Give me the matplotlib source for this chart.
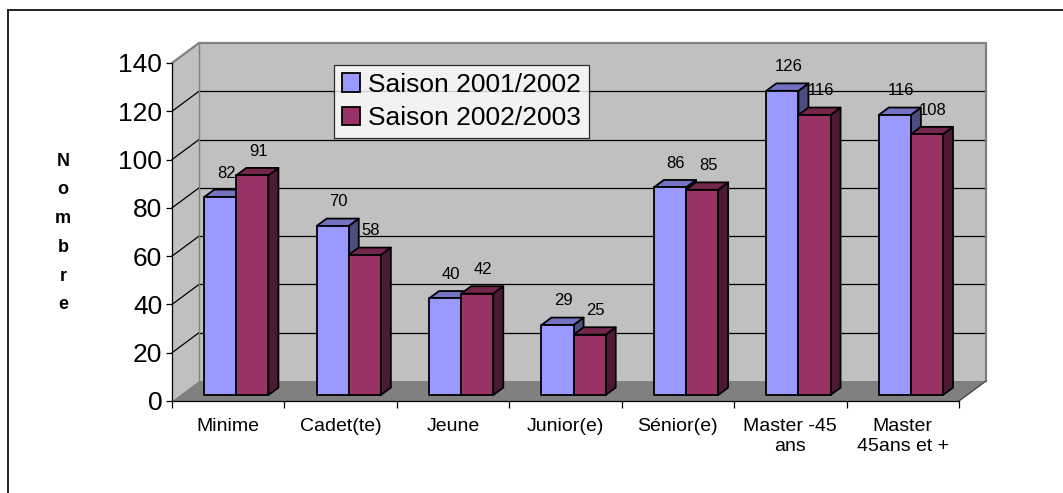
import matplotlib
matplotlib.use('Agg')
import matplotlib.pyplot as plt
from matplotlib.patches import Polygon, Rectangle, Patch

plt.rcParams['font.family'] = ['Liberation Sans', 'DejaVu Sans']

categories = ['Minime', 'Cadet(te)', 'Jeune', 'Junior(e)', 'Sénior(e)',
              'Master -45\nans', 'Master\n45ans et +']
series_names = ['Saison 2001/2002', 'Saison 2002/2003']
saison_2001 = [82, 70, 40, 29, 86, 126, 116]
saison_2002 = [91, 58, 42, 25, 85, 116, 108]
yticks = [0, 20, 40, 60, 80, 100, 120, 140]

# colours: front, top, side
colors = [('#9999FF', '#7373C4', '#4D4D80'),
          ('#993366', '#74264D', '#4D1A33')]

W, H = 1063, 493
fig = plt.figure(figsize=(W / 100, H / 100), dpi=100)
ax_l, ax_r, ax_t, ax_b = 172, 959, 63, 401
ax = fig.add_axes([ax_l / W, 1 - ax_b / H, (ax_r - ax_l) / W, (ax_b - ax_t) / H])
n = len(categories)
ax.set_xlim(-0.5, n - 0.5)
ax.set_ylim(0, 140)

px_x = (ax_r - ax_l) / n
px_y = (ax_b - ax_t) / 140.0
DX, DY = 27, 20  # depth of the floor in pixels


def proj(x, y, d):
    return (x + d * DX / px_x, y + d * DY / px_y)


def poly(pts, **kw):
    p = Polygon(pts, closed=True, clip_on=False, **kw)
    ax.add_patch(p)
    return p


def line(a, b, **kw):
    ax.plot([a[0], b[0]], [a[1], b[1]], clip_on=False, **kw)


x0, x1 = -0.5, n - 0.5
top = 140
# walls and floor
poly([proj(x0, 0, 1), proj(x1, 0, 1), proj(x1, top, 1), proj(x0, top, 1)],
     facecolor='#C0C0C0', edgecolor='none', zorder=0)
poly([proj(x0, 0, 0), proj(x0, top, 0), proj(x0, top, 1), proj(x0, 0, 1)],
     facecolor='#C0C0C0', edgecolor='none', zorder=0)
poly([proj(x0, 0, 0), proj(x1, 0, 0), proj(x1, 0, 1), proj(x0, 0, 1)],
     facecolor='#808080', edgecolor='none', zorder=0.5)

for v in yticks[1:-1]:
    line(proj(x0, v, 1), proj(x1, v, 1), color='black', lw=0.9, zorder=0.3)
    line(proj(x0, v, 0), proj(x0, v, 1), color='black', lw=0.9, zorder=0.3)

# wall edges (gray)
edge = [proj(x0, top, 0), proj(x0, top, 1), proj(x1, top, 1), proj(x1, 0, 1)]
ax.plot([p[0] for p in edge], [p[1] for p in edge], color='#808080', lw=1.6,
        zorder=0.4, clip_on=False)
line(proj(x0, 0, 1), proj(x0, top, 1), color='#808080', lw=1.0, zorder=0.4)
line(proj(x1, 0, 0), proj(x1, 0, 1), color='#404040', lw=0.9, zorder=0.6)

# bars
bw = 1 / 3.5
d0, d1 = 0.3, 0.67
for i in range(n):
    for s, vals in enumerate([saison_2001, saison_2002]):
        v = vals[i]
        l = i - bw + s * bw
        r = l + bw
        fc, tc, sc = colors[s]
        z = 2 + i * 0.1 + s * 0.01
        kw = dict(edgecolor='black', lw=1.3, joinstyle='round')
        poly([proj(r, 0, d0), proj(r, v, d0), proj(r, v, d1), proj(r, 0, d1)],
             facecolor=sc, zorder=z, **kw)
        poly([proj(l, v, d0), proj(r, v, d0), proj(r, v, d1), proj(l, v, d1)],
             facecolor=tc, zorder=z, **kw)
        poly([proj(l, 0, d0), proj(r, 0, d0), proj(r, v, d0), proj(l, v, d0)],
             facecolor=fc, zorder=z + 0.001, **kw)
        cx, cy = proj((l + r) / 2, v, d0)
        ax.annotate(str(v), (cx, cy), xytext=(6, 24), textcoords='offset pixels',
                    ha='center', va='center', fontsize=12, zorder=5)

# axes
for sp in ['top', 'right']:
    ax.spines[sp].set_visible(False)
for sp in ['left', 'bottom']:
    ax.spines[sp].set_linewidth(0.9)
    ax.spines[sp].set_zorder(1)
ax.patch.set_visible(False)
ax.set_yticks(yticks)
ax.tick_params(axis='y', direction='out', length=4, width=0.9, labelsize=19, pad=3)
ax.set_xticks([k - 0.5 for k in range(n + 1)])
ax.set_xticklabels([])
ax.tick_params(axis='x', which='major', direction='out', length=5, width=0.9)
ax.set_xticks(range(n), minor=True)
ax.set_xticklabels(categories, minor=True, fontsize=14, linespacing=1.25, va='top')
ax.tick_params(axis='x', which='minor', length=0, pad=12)

fig.text(63 / W, 1 - 233 / H, 'N\no\nm\nb\nr\ne', ha='center', va='center',
         fontsize=13, fontweight='bold', linespacing=1.9)

handles = [Patch(facecolor=colors[k][0], edgecolor='black', lw=1.3) for k in range(2)]
leg = ax.legend(handles, series_names, loc='upper left',
                bbox_to_anchor=(334 / W, 1 - 65 / H), bbox_transform=fig.transFigure,
                fontsize=19, frameon=True, fancybox=False, handlelength=0.7,
                handleheight=0.7, handletextpad=0.3, labelspacing=0.35,
                borderpad=0.3, borderaxespad=0)
leg.get_frame().set_edgecolor('black')
leg.get_frame().set_linewidth(0.9)
leg.set_zorder(10)

# outer border
fig.add_artist(Rectangle((8 / W, -0.1), 1.2, 1.1 - 10 / H, transform=fig.transFigure,
                         fill=False, edgecolor='#222222', lw=1.4))

fig.savefig('out.png', dpi=100)
